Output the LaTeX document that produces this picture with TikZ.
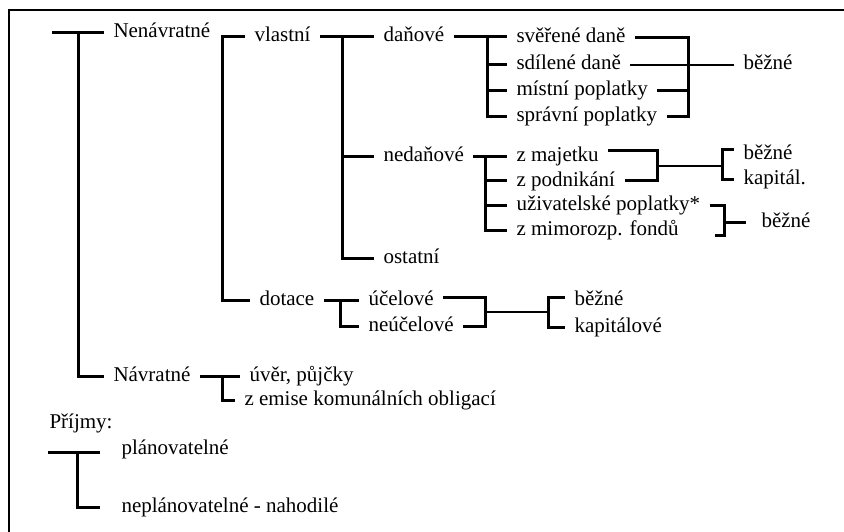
\documentclass[tikz,border=0pt]{standalone}
\usepackage{fontspec}
\setmainfont{Liberation Serif}
\begin{document}
\begin{tikzpicture}[x=1pt,y=-1pt,line width=3pt,
  lbl/.style={anchor=west,inner xsep=8pt,inner ysep=0pt,text height=15pt,text depth=5pt,font=\fontsize{21}{25}\selectfont}]
  \useasboundingbox (0,0) rectangle (844,532);
  % Frame
  \draw[line width=2pt] (844,10) -- (9,10) -- (9,532);

  % Nenavratne
  \node[lbl] (nenavr) at (104,33) {Nenávratné};
  \node[lbl] (vlastni) at (245,37) {vlastní};
  \node[lbl] (dotace) at (250,300) {dotace};

  % vlastni
  \node[lbl] (danove) at (374,37) {daňové};
  \node[lbl] (nedanove) at (374,157) {nedaňové};
  \node[lbl] (ostatni) at (374,258) {ostatní};

  % danove
  \node[lbl] (sverene) at (507,38) {svěřené daně};
  \node[lbl] (sdilene) at (507,65) {sdílené daně};
  \node[lbl] (mistni) at (507,91) {místní poplatky};
  \node[lbl] (spravni) at (507,117) {správní poplatky};
  \node[lbl] (bezne1) at (734,65) {běžné};

  % nedanove
  \node[lbl] (majetek) at (507,157) {z majetku};
  \node[lbl] (podnikani) at (507,181) {z podnikání};
  \node[lbl] (uzivatel) at (507,206) {uživatelské poplatky*};
  \node[lbl] (mimorozp) at (507,230) {z mimorozp. fondů};
  \node[lbl] (bezne2) at (734,155) {běžné};
  \node[lbl] (kapital) at (734,180) {kapitál.};
  \node[lbl] (bezne3) at (752,222) {běžné};

  % dotace
  \node[lbl] (ucelove) at (359,300) {účelové};
  \node[lbl] (neucelove) at (359,326) {neúčelové};
  \node[lbl] (bezne4) at (565,300) {běžné};
  \node[lbl] (kapitalove) at (565,327) {kapitálové};

  % Navratne
  \node[lbl] (navratne) at (104,376) {Návratné};
  \node[lbl] (uver) at (240,376) {úvěr, půjčky};
  \node[lbl] (emise) at (235,400) {z emise komunálních obligací};

  % Prijmy
  \node[lbl] (prijmy) at (40,423) {Příjmy:};
  \node[lbl] (planov) at (112,449) {plánovatelné};
  \node[lbl] (neplanov) at (112,507) {neplánovatelné - nahodilé};

  % Root bracket
  \coordinate (root) at (52,33);
  \draw (root) -- (nenavr.west);
  \draw ([xshift=26]root) |- (navratne.west);

  % Nenavratne bracket
  \draw (vlastni.west) -- ++(-23,0) |- (dotace.west);

  % vlastni bracket
  \draw (vlastni.east) -- (danove.west);
  \draw ([xshift=-32]danove.west) |- (ostatni.west);
  \draw ([xshift=-32]nedanove.west) -- (nedanove.west);

  % danove brackets
  \draw (danove.east) -- (danove.east -| sverene.west);
  \draw ([xshift=-20]sverene.west) |- (spravni.west);
  \foreach \n in {sdilene,mistni} \draw ([xshift=-20]\n.west) -- (\n.west);
  \coordinate (dr) at (688,0);
  \draw (sverene.east) -| (dr |- spravni.east) -- (spravni.east);
  \draw (mistni.east) -- (dr |- mistni.east);
  \draw[line width=2.2pt] (sdilene.east) -- (bezne1.west);

  % nedanove brackets
  \draw (nedanove.east) -- (majetek.west);
  \draw ([xshift=-22]majetek.west) |- (mimorozp.west);
  \foreach \n in {podnikani,uzivatel} \draw ([xshift=-22]\n.west) -- (\n.west);
  \coordinate (mr) at (657,0);
  \draw ([yshift=6]majetek.east) -| (mr |- podnikani.east) -- (podnikani.east);
  \draw ([yshift=5]bezne2.west) -- ++(-12,0) |- (kapital.west);
  \coordinate (m1) at (657,166);
  \coordinate (m2) at (722,166);
  \draw[line width=2.2pt] (m1) -- (m2);
  \coordinate (ur) at ([xshift=15]uzivatel.east);
  \draw (uzivatel.east) -- (ur) |- ([xshift=27,yshift=-5]mimorozp.east);
  \draw (ur |- bezne3.west) -- ([xshift=-6]bezne3.west);

  % dotace brackets
  \draw (dotace.east) -- (ucelove.west);
  \draw ([xshift=-19]ucelove.west) |- (neucelove.west);
  \coordinate (ud) at (485,0);
  \draw ([yshift=3]ucelove.east) -| (ud |- neucelove.east) -- (neucelove.east);
  \draw ([yshift=3]bezne4.west) -- ++(-17,0) |- (kapitalove.west);
  \coordinate (d1) at (485,312);
  \coordinate (d2) at (548,312);
  \draw[line width=2.2pt] (d1) -- (d2);

  % Navratne bracket
  \draw (navratne.east) -- (uver.west);
  \draw ([xshift=-18]uver.west) |- (emise.west);

  % Prijmy bracket
  \coordinate (p0) at (48,452);
  \coordinate (p1) at ([xshift=-12]planov.west);
  \draw (p0) -- (p0 -| p1);
  \draw ([xshift=29]p0) |- ([xshift=-12]neplanov.west);
\end{tikzpicture}
\end{document}
